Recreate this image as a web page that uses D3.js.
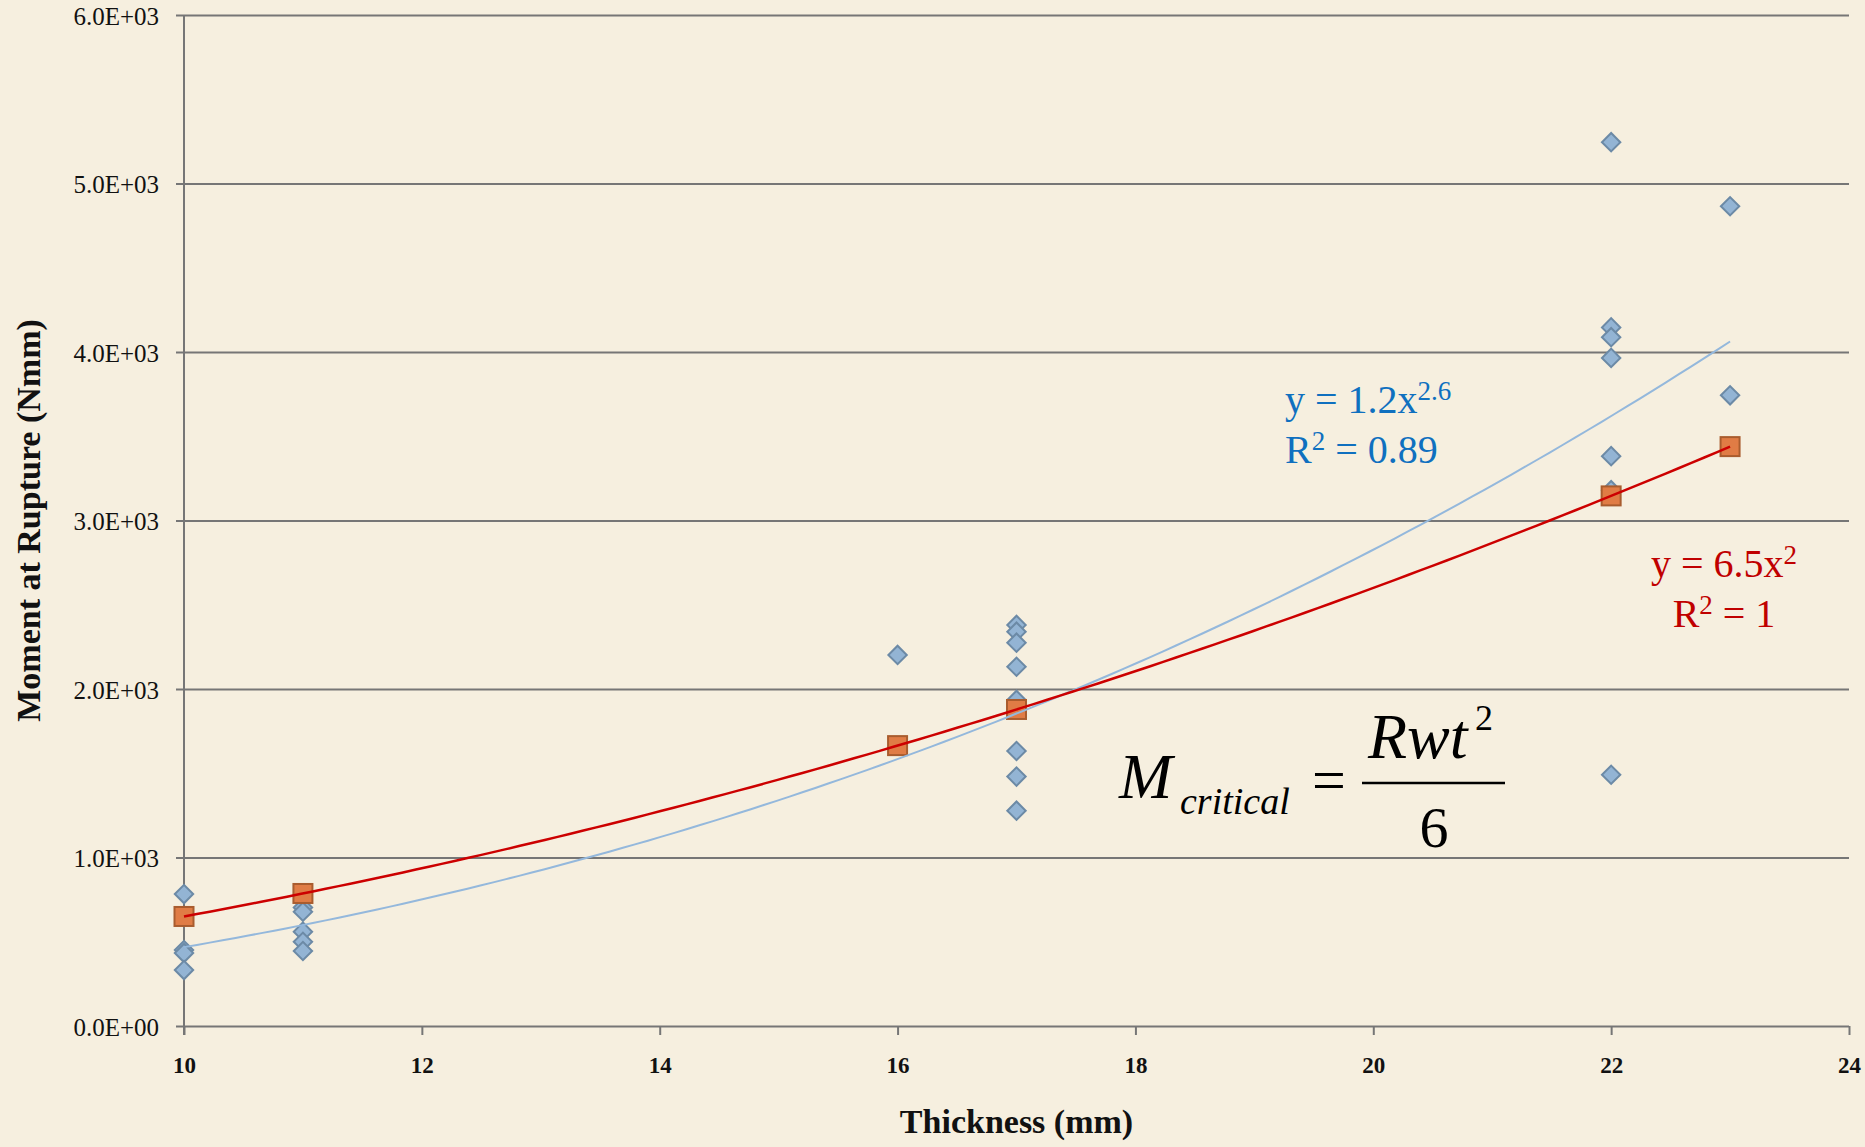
<!DOCTYPE html>
<html>
<head>
<meta charset="utf-8">
<script src="https://cdn.jsdelivr.net/npm/d3@7"></script>
<style>
  body { margin: 0; background: #f6efdf; }
  svg { display: block; font-family: "Liberation Serif", "Times New Roman", serif; }
</style>
</head>
<body>
<svg id="chart" width="1865" height="1147"></svg>
<script>
// measured samples (thickness mm, moment Nmm)
let measuredX = [10, 10, 10, 10,
  11, 11, 11, 11, 11,
  16,
  17, 17, 17, 17, 17, 17, 17, 17,
  22, 22, 22, 22, 22, 22, 22,
  23, 23]
let measuredY = [783, 451, 433, 332,
  704, 678, 560, 500, 445,
  2202,
  2380, 2340, 2275, 2132, 1935, 1632, 1480, 1278,
  5245, 4146, 4088, 3965, 3382, 3180, 1491,
  4865, 3743]

// critical moment values
let criticalX = [10, 11, 16, 17, 22, 23]
let criticalY = [650, 786.5, 1664, 1878.5, 3146, 3438.5]

let yTicks = [0, 1000, 2000, 3000, 4000, 5000, 6000]
let xTicks = [10, 12, 14, 16, 18, 20, 22, 24]

let blueLabel = ['y = 1.2x', '2.6', 'R', '2', ' = 0.89']
let redLabel = ['y = 6.5x', '2', 'R', '2', ' = 1']

let svg = d3.select('#chart')
let plotL = 184, plotR = 1849, plotT = 15, plotB = 1026

let x = d3.scaleLinear().domain([10, 24]).range([plotL, plotR])
let y = d3.scaleLinear().domain([0, 6000]).range([plotB, plotT])

svg.append('rect').attr('width', 1865).attr('height', 1147).attr('fill', '#f6efdf')

let sci = v => {
  let e = v === 0 ? 0 : Math.floor(Math.log10(v))
  return (v / Math.pow(10, e)).toFixed(1) + 'E+' + String(e).padStart(2, '0')
}

// y axis + gridlines
let gy = svg.append('g').attr('transform', 'translate(' + plotL + ',0)')
  .call(d3.axisLeft(y).tickValues(yTicks).tickFormat(sci).tickSize(-(plotR - plotL)).tickSizeOuter(0))
gy.select('.domain').remove()
gy.selectAll('.tick line').attr('x1', -8).attr('stroke', '#767676').attr('stroke-width', 2)
gy.selectAll('.tick text').attr('x', -25).attr('dy', '0.36em')
  .attr('font-size', 25).attr('fill', '#111').attr('font-family', '"Liberation Serif", serif')

// vertical axis line
svg.append('line').attr('x1', plotL).attr('x2', plotL).attr('y1', plotT).attr('y2', plotB + 9)
  .attr('stroke', '#767676').attr('stroke-width', 2)

// x axis
let gx = svg.append('g').attr('transform', 'translate(0,' + plotB + ')')
  .call(d3.axisBottom(x).tickValues(xTicks).tickSize(9).tickSizeOuter(0))
gx.select('.domain').remove()
gx.selectAll('.tick line').attr('stroke', '#767676').attr('stroke-width', 2)
gx.selectAll('.tick text').attr('y', 40).attr('dy', '0.32em').attr('font-size', 23).attr('font-weight', 'bold')
  .attr('fill', '#111').attr('font-family', '"Liberation Serif", serif')

// axis titles
svg.append('text').attr('x', (plotL + plotR) / 2).attr('y', 1133).attr('text-anchor', 'middle')
  .attr('font-size', 34).attr('font-weight', 'bold').attr('fill', '#111').text('Thickness (mm)')
svg.append('text').attr('transform', 'translate(40,' + (plotT + plotB) / 2 + ') rotate(-90)')
  .attr('text-anchor', 'middle').attr('font-size', 34).attr('font-weight', 'bold').attr('fill', '#111')
  .text('Moment at Rupture (Nmm)')

// markers
let measured = measuredX.map((d, i) => ({ x: d, y: measuredY[i] }))
let critical = criticalX.map((d, i) => ({ x: d, y: criticalY[i] }))

svg.append('g').selectAll('rect').data(measured).enter().append('rect')
  .attr('x', -6.5).attr('y', -6.5).attr('width', 13).attr('height', 13)
  .attr('transform', d => 'translate(' + x(d.x) + ',' + y(d.y) + ') rotate(45)')
  .attr('fill', '#93b4d4').attr('stroke', '#6c8aa6').attr('stroke-width', 2)

svg.append('g').selectAll('rect').data(critical).enter().append('rect')
  .attr('x', d => x(d.x) - 9.5).attr('y', d => y(d.y) - 9.5).attr('width', 19).attr('height', 19)
  .attr('fill', '#e07c45').attr('stroke', '#a95c2e').attr('stroke-width', 2)

// power trendlines (least squares in log space, like the spreadsheet)
let powerFit = pts => {
  let lx = pts.map(p => Math.log(p.x)), ly = pts.map(p => Math.log(p.y))
  let mx = d3.mean(lx), my = d3.mean(ly)
  let b = d3.sum(lx, (v, i) => (v - mx) * (ly[i] - my)) / d3.sum(lx, v => (v - mx) * (v - mx))
  let a = Math.exp(my - b * mx)
  return v => a * Math.pow(v, b)
}

let trend = (pts, color, w) => {
  let f = powerFit(pts)
  let ext = d3.extent(pts, p => p.x)
  let xs = d3.range(ext[0], ext[1] + 0.001, (ext[1] - ext[0]) / 120)
  svg.append('path').datum(xs)
    .attr('fill', 'none').attr('stroke', color).attr('stroke-width', w)
    .attr('d', d3.line().x(v => x(v)).y(v => y(f(v))))
}
trend(measured, '#94b8dc', 2)
trend(critical, '#cc0000', 2.5)

// equation labels
let label = (parts, color, px, py, anchor) => {
  let t1 = svg.append('text').attr('x', px).attr('y', py).attr('text-anchor', anchor)
    .attr('font-size', 40).attr('fill', color)
  t1.append('tspan').text(parts[0])
  t1.append('tspan').attr('font-size', 27).attr('dy', -13).text(parts[1])
  let t2 = svg.append('text').attr('x', px).attr('y', py + 50).attr('text-anchor', anchor)
    .attr('font-size', 40).attr('fill', color)
  t2.append('tspan').text(parts[2])
  t2.append('tspan').attr('font-size', 27).attr('dy', -13).text(parts[3])
  t2.append('tspan').attr('dy', 13).text(parts[4])
}
label(blueLabel, '#0f70bf', 1285, 413, 'start')
label(redLabel, '#c00000', 1724, 577, 'middle')

// formula
let fm = svg.append('g').attr('transform', 'translate(1119,798)').attr('fill', '#000')
fm.append('text').attr('x', 0).attr('y', 0).attr('font-size', 64).attr('font-style', 'italic').text('M')
fm.append('text').attr('x', 61).attr('y', 16).attr('font-size', 38).attr('font-style', 'italic').text('critical')
fm.append('text').attr('x', 210).attr('y', 2).attr('text-anchor', 'middle').attr('font-size', 60).text('=')
fm.append('line').attr('x1', 243).attr('x2', 386).attr('y1', -15).attr('y2', -15).attr('stroke', '#000').attr('stroke-width', 2.5)
fm.append('text').attr('x', 249).attr('y', -40).attr('font-size', 64).attr('font-style', 'italic').text('Rwt')
fm.append('text').attr('x', 356).attr('y', -68).attr('font-size', 36).text('2')
fm.append('text').attr('x', 315).attr('y', 49).attr('text-anchor', 'middle').attr('font-size', 58).text('6')
</script>
</body>
</html>
